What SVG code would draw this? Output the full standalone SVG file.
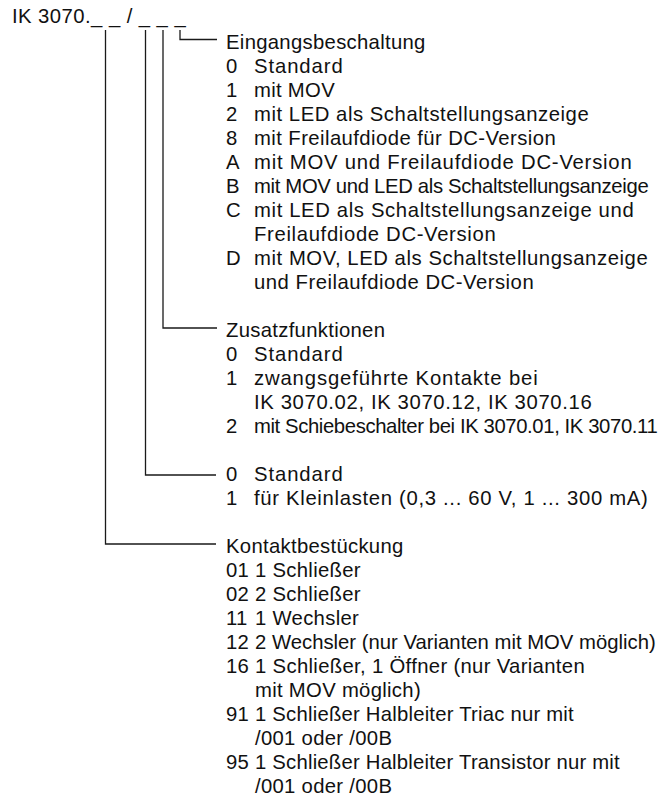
<svg xmlns="http://www.w3.org/2000/svg" width="668" height="799" viewBox="0 0 668 799">
<style>
text{font-family:"Liberation Sans",Arial,Helvetica,sans-serif;font-size:20.3px;fill:#111;letter-spacing:0.3px}
.c{fill:none;stroke:#1a1a1a;stroke-width:1.3}
</style>
<rect width="668" height="799" fill="#fff"/>
<g id="title"><text x="12" y="23" textLength="174">IK 3070._ _ / _ _ _</text></g>
<g id="connectors">
<path class="c" d="M180,30 V39.5 H217"/>
<path class="c" d="M163,30 V328 H217"/>
<path class="c" d="M145.5,30 V475 H216"/>
<path class="c" d="M105.5,30 V544 H216"/>
</g>
<g id="eingangsbeschaltung">
<text x="226" y="49">Eingangsbeschaltung</text>
<text x="226" y="73">0</text><text x="254" y="73" textLength="89">Standard</text>
<text x="226" y="97">1</text><text x="254" y="97">mit MOV</text>
<text x="226" y="121">2</text><text x="254" y="121" textLength="335">mit LED als Schaltstellungsanzeige</text>
<text x="226" y="145">8</text><text x="254" y="145" textLength="302">mit Freilaufdiode für DC-Version</text>
<text x="226" y="169">A</text><text x="254" y="169" textLength="378">mit MOV und Freilaufdiode DC-Version</text>
<text x="226" y="193">B</text><text x="254" y="193" textLength="395">mit MOV und LED als Schaltstellungsanzeige</text>
<text x="226" y="217">C</text><text x="254" y="217" textLength="380">mit LED als Schaltstellungsanzeige und</text>
<text x="254" y="241" textLength="242">Freilaufdiode DC-Version</text>
<text x="226" y="265">D</text><text x="254" y="265" textLength="394">mit MOV, LED als Schaltstellungsanzeige</text>
<text x="254" y="289" textLength="280">und Freilaufdiode DC-Version</text>
</g>
<g id="zusatzfunktionen">
<text x="226" y="337">Zusatzfunktionen</text>
<text x="226" y="361">0</text><text x="254" y="361" textLength="89">Standard</text>
<text x="226" y="385">1</text><text x="254" y="385" textLength="284">zwangsgeführte Kontakte bei</text>
<text x="254" y="409" textLength="338">IK 3070.02, IK 3070.12, IK 3070.16</text>
<text x="226" y="433">2</text><text x="254" y="433" textLength="404">mit Schiebeschalter bei IK 3070.01, IK 3070.11</text>
</g>
<g id="kleinlasten">
<text x="226" y="481">0</text><text x="254" y="481" textLength="89">Standard</text>
<text x="226" y="505">1</text><text x="254" y="505" textLength="394">für Kleinlasten (0,3 ... 60 V, 1 ... 300 mA)</text>
</g>
<g id="kontaktbestueckung">
<text x="226" y="553">Kontaktbestückung</text>
<text x="226" y="577">01</text><text x="255" y="577">1 Schließer</text>
<text x="226" y="601">02</text><text x="255" y="601">2 Schließer</text>
<text x="226" y="625">11</text><text x="255" y="625">1 Wechsler</text>
<text x="226" y="649">12</text><text x="255" y="649" textLength="401">2 Wechsler (nur Varianten mit MOV möglich)</text>
<text x="226" y="673">16</text><text x="255" y="673" textLength="330">1 Schließer, 1 Öffner (nur Varianten</text>
<text x="255" y="697">mit MOV möglich)</text>
<text x="226" y="721">91</text><text x="255" y="721" textLength="319">1 Schließer Halbleiter Triac nur mit</text>
<text x="255" y="745">/001 oder /00B</text>
<text x="226" y="769">95</text><text x="255" y="769" textLength="365">1 Schließer Halbleiter Transistor nur mit</text>
<text x="255" y="793">/001 oder /00B</text>
</g>
</svg>
